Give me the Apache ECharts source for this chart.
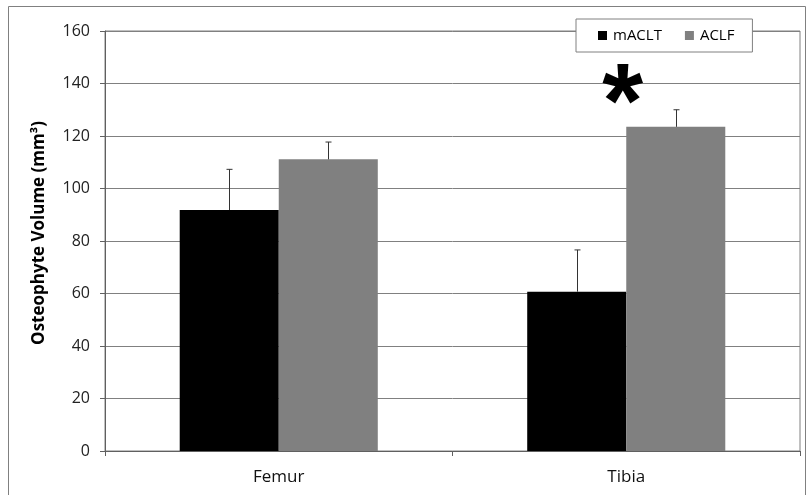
<!DOCTYPE html>
<html>
<head>
<meta charset="utf-8">
<script src="https://cdn.jsdelivr.net/npm/echarts@6/dist/echarts.min.js"></script>
<style>html,body{margin:0;padding:0;background:#fff}#c{width:810px;height:495px}</style>
</head>
<body>
<div id="c"></div>
<script>
const categories = ['Femur', 'Tibia'];
const mACLT = [91.8, 60.7];
const mACLTErr = [15.5, 15.9];
const ACLF = [111.1, 123.5];
const ACLFErr = [6.6, 6.5];
const yTicks = [0, 20, 40, 60, 80, 100, 120, 140, 160];
const starAt = { category: 'Tibia', value: 138 };

const FONT = '"Open Sans", "Liberation Sans", sans-serif';
const CAT_GAP = 0.43;

function errSeries(vals, errs, side) {
  return {
    type: 'custom',
    silent: true,
    z: 5,
    data: vals.map((v, i) => [i, v, v + errs[i]]),
    encode: { x: 0, y: [1, 2] },
    renderItem: function (params, api) {
      const band = api.size([1, 0])[0];
      const barW = band * (1 - CAT_GAP) / 2;
      const off = side * barW / 2;
      const p0 = api.coord([api.value(0), api.value(1)]);
      const p1 = api.coord([api.value(0), api.value(2)]);
      const x = Math.round(p0[0] + off) + 0.5;
      const st = { stroke: '#333333', lineWidth: 1 };
      return {
        type: 'group',
        children: [
          { type: 'line', shape: { x1: x, y1: p0[1], x2: x, y2: p1[1] }, style: st },
          { type: 'line', shape: { x1: x - 3, y1: p1[1], x2: x + 3, y2: p1[1] }, style: st }
        ]
      };
    }
  };
}

const chart = echarts.init(document.getElementById('c'));
chart.setOption({
  animation: false,
  backgroundColor: '#fff',
  graphic: [{
    type: 'rect', silent: true, z: -10,
    shape: { x: 8.5, y: 6.5, width: 797, height: 500 },
    style: { fill: 'none', stroke: '#808080', lineWidth: 1 }
  }],
  grid: { left: 105, right: 10, top: 31, bottom: 44, show: true, borderColor: '#808080', borderWidth: 1, backgroundColor: 'transparent' },
  legend: {
    data: ['mACLT', 'ACLF'],
    left: 576, top: 19,
    padding: [9, 18, 9, 22],
    itemWidth: 9, itemHeight: 9, itemGap: 23,
    backgroundColor: '#fff',
    borderColor: '#808080', borderWidth: 1,
    icon: 'rect',
    textStyle: { fontFamily: FONT, fontSize: 15, color: '#000', padding: [0, 0, 0, 1] }
  },
  xAxis: {
    type: 'category',
    data: categories,
    axisLine: { lineStyle: { color: '#606060', width: 1 } },
    axisTick: { show: true, length: 5, lineStyle: { color: '#606060' } },
    axisLabel: { fontFamily: FONT, fontSize: 17, color: '#111', margin: 18 }
  },
  yAxis: {
    type: 'value',
    min: yTicks[0], max: yTicks[yTicks.length - 1], interval: 20,
    name: 'Osteophyte Volume (mm\u00b3)',
    nameLocation: 'middle', nameGap: 57,
    nameTextStyle: { fontFamily: FONT, fontSize: 17, fontWeight: 'bold', color: '#000', padding: [0, 0, 0, 16] },
    axisLine: { show: true, lineStyle: { color: '#606060' } },
    axisTick: { show: true, length: 5, lineStyle: { color: '#606060' } },
    axisLabel: { fontFamily: FONT, fontSize: 16, color: '#222', margin: 15 },
    splitLine: { lineStyle: { color: '#808080', width: 1 } }
  },
  series: [
    { name: 'mACLT', type: 'bar', data: mACLT, barGap: '0%', barCategoryGap: (CAT_GAP * 100) + '%', itemStyle: { color: '#000000' } },
    {
      name: 'ACLF', type: 'bar', data: ACLF, barGap: '0%', barCategoryGap: (CAT_GAP * 100) + '%', itemStyle: { color: '#808080' },
      markPoint: {
        symbol: 'circle', symbolSize: 0,
        data: [{ coord: [starAt.category, starAt.value] }],
        label: { show: true, formatter: '*', position: 'inside', fontFamily: '"Liberation Sans", Arial, sans-serif', fontWeight: 'bold', fontSize: 105, color: '#000', offset: [-53, 19] }
      }
    },
    errSeries(mACLT, mACLTErr, -1),
    errSeries(ACLF, ACLFErr, 1)
  ]
});
</script>
</body>
</html>
